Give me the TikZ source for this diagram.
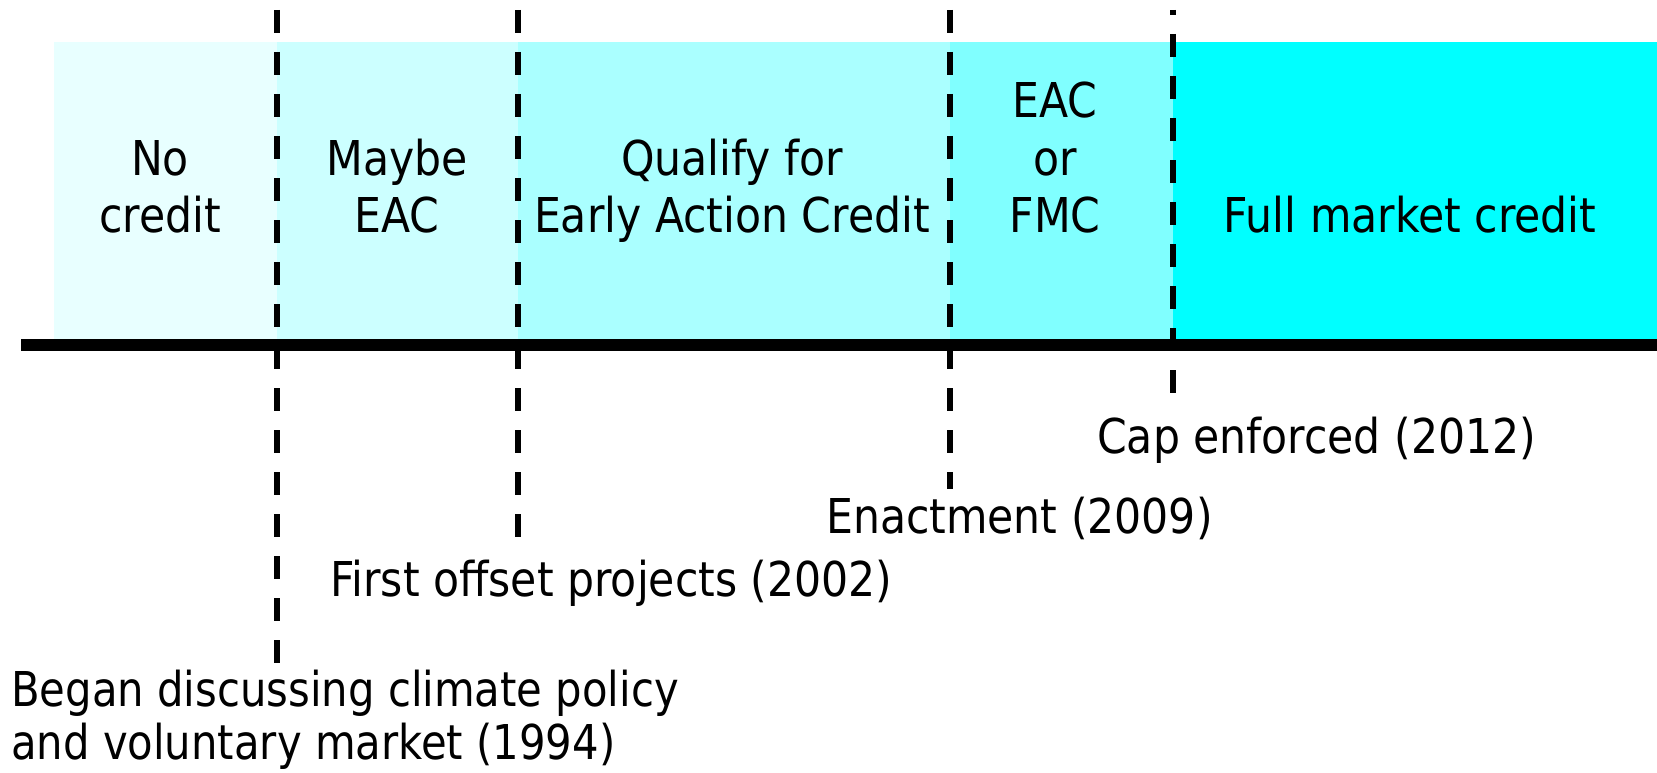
\documentclass[tikz,border=0pt]{standalone}
\usepackage{fontspec}
\setmainfont{DejaVu Sans}[FakeStretch=0.887]
\newfontfamily\narrowfont{DejaVu Sans}[FakeStretch=0.87]
\definecolor{cA}{HTML}{E8FFFF}
\definecolor{cB}{HTML}{CCFFFF}
\definecolor{cC}{HTML}{AAFFFF}
\definecolor{cD}{HTML}{80FFFF}
\definecolor{cE}{HTML}{00FFFF}
\begin{document}
\begin{tikzpicture}[x=1pt,y=-1pt,
  txt/.style={inner sep=0pt, text depth=0pt, font=\fontsize{48}{57.5}\selectfont},
  bandtxt/.style={txt, align=center, anchor=south},
  lefttxt/.style={txt, align=left, anchor=south west},
  marker/.style={line width=6pt, dash pattern=on 23pt off 19pt},
  axisline/.style={line width=12pt}]
\useasboundingbox (0,0) rectangle (1657,773);
% bands
\fill[cA] (54,42) rectangle (277,340);
\fill[cB] (277,42) rectangle (518,340);
\fill[cC] (518,42) rectangle (950,340);
\fill[cD] (950,42) rectangle (1173,340);
\fill[cE] (1173,42) rectangle (1657,340);
% axis
\coordinate (axL) at (21,345);
\coordinate (axR) at (1657,345);
\draw[axisline] (axL) -- (axR);
% markers
\coordinate (m1t) at (277,10);  \coordinate (m1b) at (277,663);
\coordinate (m2t) at (518,10);  \coordinate (m2b) at (518,537);
\coordinate (m3t) at (950,10);  \coordinate (m3b) at (950,489);
\coordinate (m4t) at (1173,10); \coordinate (m4b) at (1173,393);
\draw[marker] (m1t) -- (m1b);
\draw[marker] (m2t) -- (m2b);
\draw[marker] (m3t) -- (m3b);
\draw[marker, dash phase=18pt] (m4t) -- (m4b);
% band labels
\node[bandtxt] (nocredit) at (160,233) {No\\credit};
\node[bandtxt] (maybe) at (397,233) {Maybe\\EAC};
\node[bandtxt] (qualify) at (732,233) {Qualify for\\Early Action Credit};
\node[bandtxt] (eacfmc) at (1055,233) {EAC\\or\\FMC};
\node[bandtxt] (full) at (1410,233) {Full market credit};
% event labels
\node[lefttxt] (cap) at (1097,454) {Cap enforced (2012)};
\node[lefttxt] (enact) at (826,534) {Enactment (2009)};
\node[lefttxt] (first) at (330,597) {First offset projects (2002)};
\node[lefttxt, font=\narrowfont\fontsize{48}{53}\selectfont] (began) at (11,760) {Began discussing climate policy\\and voluntary market (1994)};
\end{tikzpicture}
\end{document}
